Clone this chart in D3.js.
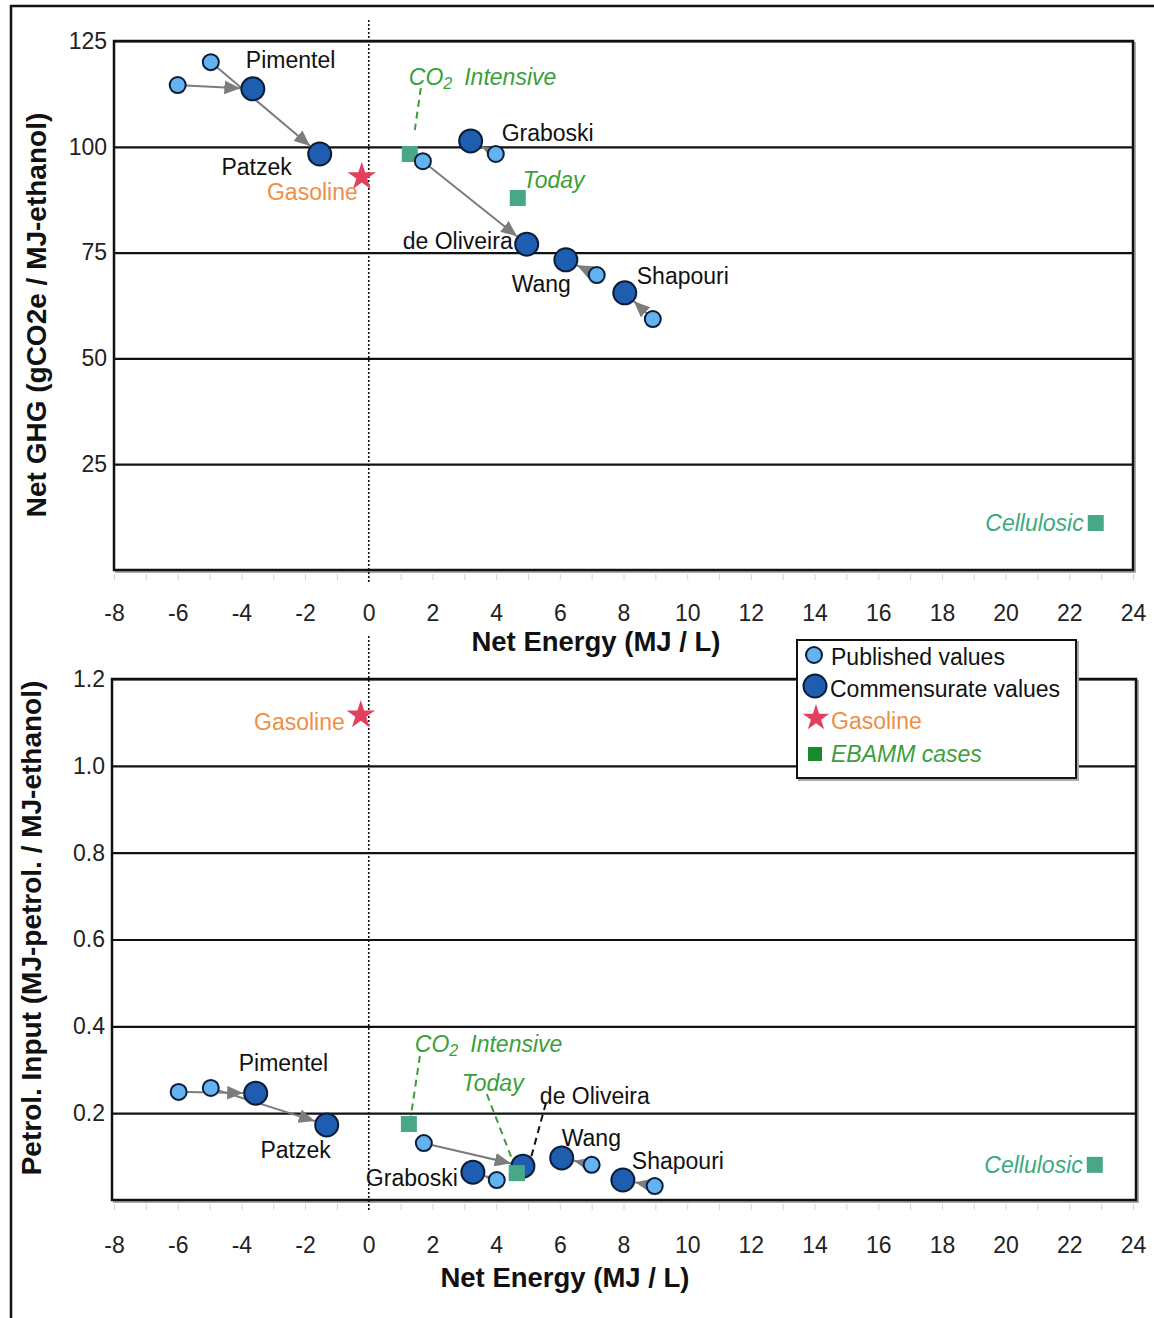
<!DOCTYPE html>
<html><head><meta charset="utf-8">
<script src="https://cdn.jsdelivr.net/npm/d3@7"></script>
<style>body{margin:0;background:#fff} text{font-family:"Liberation Sans",Arial,Helvetica,sans-serif}</style>
</head><body><svg id="c" width="1154" height="1318"></svg>
<script>
// ---------------- DATA ----------------
const studies = ["Pimentel","Patzek","Graboski","de Oliveira","Wang","Shapouri"];
const energyTicks = [-8,-6,-4,-2,0,2,4,6,8,10,12,14,16,18,20,22,24];
const ghgTicks = [25,50,75,100,125];
const petrolTicks = [0.2,0.4,0.6,0.8,1.0,1.2];

// Net GHG panel
const ghgPubEnergy = [-6.0,-4.96,3.99,1.70,7.16,8.92];
const ghgPubValue  = [114.6,120.0,98.3,96.6,69.7,59.3];
const ghgComEnergy = [-3.64,-1.54,3.20,4.96,6.19,8.04];
const ghgComValue  = [113.7,98.3,101.4,77.0,73.3,65.5];
const ebammCases = ["CO2 Intensive","Today","Cellulosic"];
const ghgEbammEnergy = [1.29,4.68,22.83];
const ghgEbammValue  = [98.3,87.9,11.1];
const ghgGasoline = [-0.22,92.9];

// Petroleum input panel
const petPubEnergy = [-5.97,-4.96,4.02,1.73,7.00,8.98];
const petPubValue  = [0.249,0.258,0.046,0.131,0.081,0.032];
const petComEnergy = [-3.55,-1.32,3.27,4.84,6.06,7.98];
const petComValue  = [0.246,0.173,0.064,0.078,0.097,0.046];
const petEbammEnergy = [1.26,4.65,22.80];
const petEbammValue  = [0.175,0.062,0.081];
const petGasoline = [-0.25,1.117];

const legendLabels = ["Published values","Commensurate values","Gasoline","EBAMM cases"];

// ---------------- STYLE / LAYOUT ----------------
const C = {pubFill:"#63b3f0", comFill:"#1f5db0", stroke:"#0b1d3a", star:"#e2405d",
  orange:"#ee8f48", green:"#3a9f3a", teal:"#3aaa7d", sq:"#47a888", legSq:"#1b8a2c", arrow:"#7c7c7c"};
const R_PUB = 8, R_COM = 11.5, SQ = 16, STAR_R = 15;
const FS = 23;
const hyphenFmt = d => String(d);

const svg = d3.select("#c");
svg.append("rect").attr("width",1154).attr("height",1318).attr("fill","#fff");
svg.append("path").attr("d","M11,1318V6H1154").attr("fill","none").attr("stroke","#111").attr("stroke-width",2.5);

const defs = svg.append("defs");
defs.append("marker").attr("id","ah").attr("viewBox","0 0 14 12").attr("refX",14).attr("refY",6)
  .attr("markerWidth",16).attr("markerHeight",14).attr("markerUnits","userSpaceOnUse").attr("orient","auto")
  .append("path").attr("d","M0,0L14,6L0,12Z").attr("fill",C.arrow);

function starPath(r){ return d3.symbol(d3.symbolStar, r*r/0.8908130915292852)(); }

function panel(cfg){
  const g = svg.append("g");
  const x = d3.scaleLinear().domain([-8,24]).range([114,1133]);
  const y = d3.scaleLinear().domain(cfg.yDomain).range([cfg.yBottom, cfg.yTop]);
  const fx0 = cfg.frameX[0], fx1 = cfg.frameX[1];

  g.append("rect").attr("x",fx0+2).attr("y",cfg.yTop+2).attr("width",fx1-fx0).attr("height",cfg.yBottom-cfg.yTop)
    .attr("fill","none").attr("stroke","#aaa").attr("stroke-width",2);
  g.append("rect").attr("x",fx0).attr("y",cfg.yTop).attr("width",fx1-fx0).attr("height",cfg.yBottom-cfg.yTop)
    .attr("fill","#fff").attr("stroke","#111").attr("stroke-width",2.5);

  const ya = g.append("g").attr("transform",`translate(${fx0},0)`)
    .call(d3.axisLeft(y).tickValues(cfg.yTicks).tickSize(-(fx1-fx0)).tickPadding(7).tickFormat(cfg.yFormat));
  ya.select(".domain").remove();
  ya.selectAll("line").attr("stroke","#111").attr("stroke-width",2.2);
  ya.selectAll("text").attr("font-size",FS).attr("fill","#222").attr("font-family",'"Liberation Sans",Arial,sans-serif');

  const mi = g.append("g").attr("transform",`translate(0,${cfg.yBottom+4})`)
    .call(d3.axisBottom(x).tickValues(d3.range(-8,25,1)).tickSize(6).tickFormat(""));
  mi.select(".domain").remove();
  mi.selectAll("line").attr("stroke","#d4d4d4").attr("stroke-width",1);

  const xa = g.append("g").attr("transform",`translate(0,${cfg.xLabelY})`)
    .call(d3.axisBottom(x).tickValues(energyTicks).tickSize(0).tickPadding(0).tickFormat(hyphenFmt));
  xa.select(".domain").remove();
  xa.selectAll("text").attr("font-size",FS).attr("fill","#222").attr("font-family",'"Liberation Sans",Arial,sans-serif');

  g.append("text").attr("x",cfg.xTitleX).attr("y",cfg.xTitleY).attr("text-anchor","middle")
    .attr("font-size",27.5).attr("font-weight","bold").attr("fill","#111").text("Net Energy (MJ / L)");
  g.append("text").attr("transform",`translate(${cfg.yTitleX},${cfg.yTitleY}) rotate(-90)`).attr("text-anchor","middle")
    .attr("font-size",28).attr("font-weight","bold").attr("fill","#111").text(cfg.yTitle);

  g.append("line").attr("x1",x(0)).attr("x2",x(0)).attr("y1",cfg.zeroLine[0]).attr("y2",cfg.zeroLine[1])
    .attr("stroke","#111").attr("stroke-width",1.6).attr("stroke-dasharray","2,2");

  const pairs = studies.map((s,i)=>({s, px:x(cfg.pubE[i]), py:y(cfg.pubV[i]), cx:x(cfg.comE[i]), cy:y(cfg.comV[i])}));
  pairs.forEach(p=>{
    const dx=p.cx-p.px, dy=p.cy-p.py, L=Math.hypot(dx,dy), ux=dx/L, uy=dy/L;
    g.append("line").attr("x1",p.px+ux*R_PUB).attr("y1",p.py+uy*R_PUB)
      .attr("x2",p.cx-ux*(R_COM+1)).attr("y2",p.cy-uy*(R_COM+1))
      .attr("stroke",C.arrow).attr("stroke-width",2).attr("marker-end","url(#ah)");
  });

  cfg.leaders.forEach(l=>{
    const bx = l.base==="com" ? x(cfg.comE[l.i]) : x(cfg.ebE[l.i]);
    const by = l.base==="com" ? y(cfg.comV[l.i]) : y(cfg.ebV[l.i]);
    g.append("line").attr("x1",bx+l.a[0]).attr("y1",by+l.a[1]).attr("x2",bx+l.b[0]).attr("y2",by+l.b[1])
      .attr("stroke",l.color).attr("stroke-width",2).attr("stroke-dasharray","7,5");
  });

  ebammCases.forEach((c,i)=>{
    g.append("rect").attr("x",x(cfg.ebE[i])-SQ/2).attr("y",y(cfg.ebV[i])-SQ/2).attr("width",SQ).attr("height",SQ).attr("fill",C.sq);
  });

  pairs.forEach(p=>{
    g.append("circle").attr("cx",p.px).attr("cy",p.py).attr("r",R_PUB).attr("fill",C.pubFill).attr("stroke",C.stroke).attr("stroke-width",2);
  });
  pairs.forEach(p=>{
    g.append("circle").attr("cx",p.cx).attr("cy",p.cy).attr("r",R_COM).attr("fill",C.comFill).attr("stroke",C.stroke).attr("stroke-width",2);
  });
  if(cfg.squareOnTop){
    cfg.squareOnTop.forEach(i=>{
      g.append("rect").attr("x",x(cfg.ebE[i])-SQ/2).attr("y",y(cfg.ebV[i])-SQ/2).attr("width",SQ).attr("height",SQ).attr("fill",C.sq);
    });
  }

  const gx=x(cfg.gas[0]), gy=y(cfg.gas[1]);
  g.append("path").attr("d",starPath(STAR_R)).attr("transform",`translate(${gx},${gy})`).attr("fill",C.star);
  g.append("text").attr("x",gx+cfg.gasLabel[0]).attr("y",gy+cfg.gasLabel[1]).attr("text-anchor","end")
    .attr("dominant-baseline","central").attr("font-size",FS).attr("fill",C.orange).text("Gasoline");

  studies.forEach((s,i)=>{
    const o = cfg.studyLabels[i];
    g.append("text").attr("x",x(cfg.comE[i])+o[0]).attr("y",y(cfg.comV[i])+o[1]).attr("text-anchor",o[2])
      .attr("dominant-baseline","central").attr("font-size",FS).attr("fill","#111").text(s);
  });

  ebammCases.forEach((c,i)=>{
    const o = cfg.ebLabels[i];
    const t = g.append("text").attr("x",x(cfg.ebE[i])+o[0]).attr("y",y(cfg.ebV[i])+o[1]).attr("text-anchor",o[2])
      .attr("dominant-baseline","central").attr("font-size",FS).attr("font-style","italic")
      .attr("fill", c==="Cellulosic" ? C.teal : C.green);
    if(c.startsWith("CO2")){
      t.append("tspan").text("CO");
      t.append("tspan").attr("font-size",16).attr("dy",6).text("2");
      t.append("tspan").attr("dy",-6).attr("dx",12).text(c.slice(4));
    } else t.text(c);
  });
}

panel({
  yDomain:[0,125], yTop:41, yBottom:570, frameX:[114,1133], yTicks:ghgTicks, yFormat:hyphenFmt,
  xLabelY:605, xTitleX:596, xTitleY:651, yTitleX:46, yTitleY:315, yTitle:"Net GHG (gCO2e / MJ-ethanol)",
  zeroLine:[20,582],
  pubE:ghgPubEnergy, pubV:ghgPubValue, comE:ghgComEnergy, comV:ghgComValue,
  ebE:ghgEbammEnergy, ebV:ghgEbammValue, gas:ghgGasoline, gasLabel:[-4,15],
  studyLabels:[[-7,-29,"start"],[-28,13,"end"],[31,-8,"start"],[-14,-3,"end"],[5,24,"end"],[12,-17,"start"]],
  ebLabels:[[-1,-77,"start"],[5,-18,"start"],[-12,0,"end"]],
  leaders:[{base:"eb",i:0,a:[11,-66],b:[5,-24],color:C.green}]
});

panel({
  yDomain:[0,1.2], yTop:679, yBottom:1200, frameX:[112,1136], yTicks:petrolTicks, yFormat:d3.format(".1f"),
  xLabelY:1237, xTitleX:565, xTitleY:1287, yTitleX:41, yTitleY:928, yTitle:"Petrol. Input (MJ-petrol. / MJ-ethanol)",
  zeroLine:[636,1212],
  pubE:petPubEnergy, pubV:petPubValue, comE:petComEnergy, comV:petComValue,
  ebE:petEbammEnergy, ebV:petEbammValue, gas:petGasoline, gasLabel:[-16,7],
  studyLabels:[[-17,-30,"start"],[4,25,"end"],[-15,6,"end"],[17,-70,"start"],[0,-20,"start"],[9,-19,"start"]],
  ebLabels:[[6,-80,"start"],[-55,-90,"start"],[-12,0,"end"]],
  leaders:[{base:"eb",i:0,a:[11,-68],b:[2,-8],color:C.green},
           {base:"eb",i:1,a:[-30,-79],b:[-4,-12],color:C.green},
           {base:"com",i:3,a:[23,-63],b:[8,-8],color:"#111"}],
  squareOnTop:[1]
});

const lg = svg.append("g");
lg.append("rect").attr("x",799).attr("y",642).attr("width",279).attr("height",138).attr("fill","none").attr("stroke","#aaa").attr("stroke-width",2);
lg.append("rect").attr("x",797).attr("y",640).attr("width",279).attr("height",138).attr("fill","#fff").attr("stroke","#111").attr("stroke-width",2);
lg.append("circle").attr("cx",814).attr("cy",655).attr("r",R_PUB).attr("fill",C.pubFill).attr("stroke",C.stroke).attr("stroke-width",2);
lg.append("circle").attr("cx",815).attr("cy",686).attr("r",R_COM).attr("fill",C.comFill).attr("stroke",C.stroke).attr("stroke-width",2);
lg.append("path").attr("d",starPath(14)).attr("transform","translate(816,718)").attr("fill",C.star);
lg.append("rect").attr("x",808).attr("y",747).attr("width",14).attr("height",14).attr("fill",C.legSq);
const legY = [657,689,721,754], legX=[831,830,831,831];
legendLabels.forEach((t,i)=>{
  lg.append("text").attr("x",legX[i]).attr("y",legY[i]).attr("dominant-baseline","central").attr("font-size",FS)
    .attr("fill", i===2 ? C.orange : (i===3 ? C.green : "#111"))
    .attr("font-style", i===3 ? "italic" : "normal").text(t);
});
</script></body></html>
